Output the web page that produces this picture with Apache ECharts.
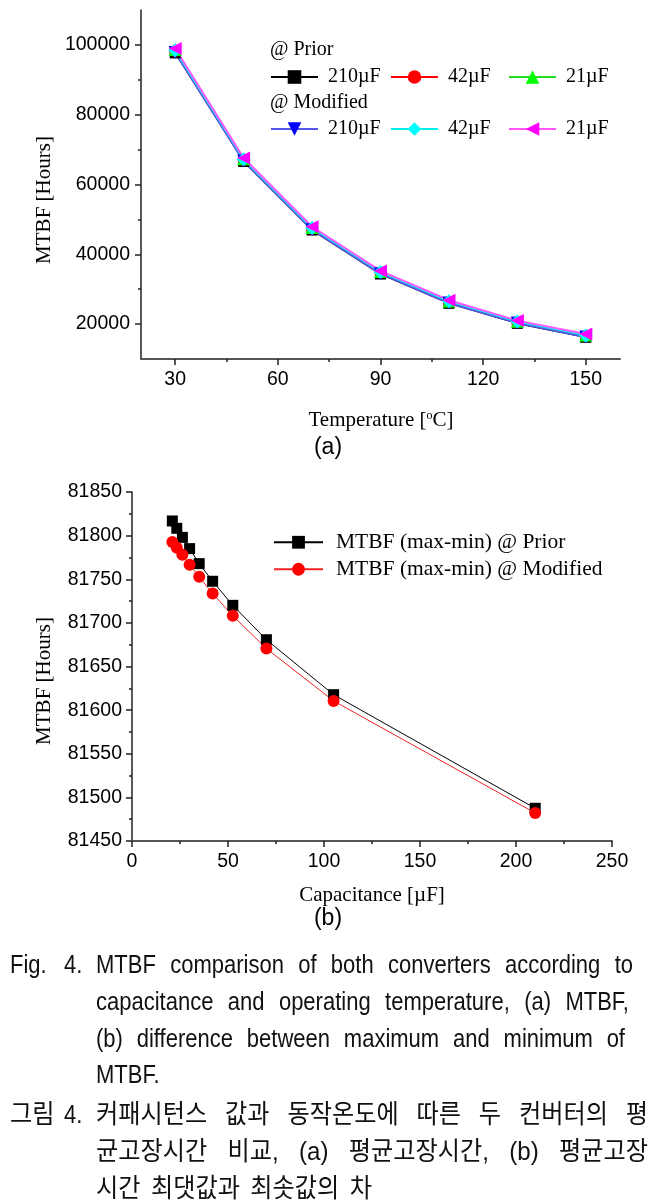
<!DOCTYPE html>
<html>
<head>
<meta charset="utf-8">
<script src="https://cdn.jsdelivr.net/npm/echarts@6/dist/echarts.min.js"></script>
<style>
html, body { margin: 0; padding: 0; background: #fff; }
#wrap { position: relative; width: 665px; height: 1204px; }
#chart { position: absolute; left: 0; top: 0; width: 665px; height: 1204px; }
.cap { position: absolute; font-family: "Liberation Sans", "Noto Sans CJK KR", sans-serif; font-size: 25px; line-height: 30px; color: #111; transform: scaleX(0.88); transform-origin: 0 50%; }
.kr { position: absolute; font-family: "Liberation Sans", "Noto Sans CJK KR", sans-serif; font-size: 26px; line-height: 30px; color: #111; word-spacing: 4px; transform: scaleX(0.93); transform-origin: 0 50%; }
.just { text-align: justify; text-align-last: justify; }
</style>
</head>
<body>
<div id="wrap"><div id="chart"></div><div id="caption"></div></div>
<script>
// (a) MTBF vs temperature
var temps = [30, 50, 70, 90, 110, 130, 150];
var prior210 = [97700, 66600, 46950, 34350, 25950, 20200, 16213];
var prior42 = [98250, 67050, 47350, 34750, 26350, 20550, 16502];
var prior21 = [98700, 67400, 47700, 35050, 26650, 20850, 16883];
var mod210 = [97800, 66700, 47050, 34450, 26050, 20300, 16319];
var mod42 = [98500, 67250, 47550, 34950, 26550, 20750, 16766];
var mod21 = [98950, 67600, 47900, 35250, 26850, 21000, 17157];
var tempTicks = [30, 60, 90, 120, 150];
var tempMinor = [45, 75, 105, 135];
var hourTicks = [20000, 40000, 60000, 80000, 100000];
var hourMinor = [30000, 50000, 70000, 90000];

// (b) max-min MTBF vs capacitance
var caps = [21, 23.33, 26.25, 30, 35, 42, 52.5, 70, 105, 210];
var diffPrior = [81816.8, 81808.4, 81798, 81785.1, 81767.9, 81747.7, 81720.1, 81680.7, 81617.7, 81487.5];
var diffMod = [81792.7, 81786.2, 81778, 81766.5, 81752.8, 81733.7, 81708.1, 81670.6, 81610.5, 81482.1];

var captionLines = [
  { text: 'Fig.', left: 10, y: 964 },
  { text: '4.', left: 64, y: 964 },
  { text: 'MTBF comparison of both converters according to', left: 96, right: 633, y: 964 },
  { text: 'capacitance and operating temperature, (a) MTBF,', left: 96, right: 629, y: 1001 },
  { text: '(b) difference between maximum and minimum of', left: 96, right: 625, y: 1038 },
  { text: 'MTBF.', left: 96, y: 1074 },
  { text: '그림', left: 10, y: 1114, kr: true },
  { text: '4.', left: 64, y: 1114 },
  { text: '커패시턴스 값과 동작온도에 따른 두 컨버터의 평', left: 96, right: 648, y: 1114, kr: true },
  { text: '균고장시간 비교, (a) 평균고장시간, (b) 평균고장', left: 96, right: 648, y: 1151, kr: true },
  { text: '시간 최댓값과 최솟값의 차', left: 96, y: 1188, kr: true }
];

var SANS = 'Liberation Sans';
var SERIF = 'Liberation Serif';

function pairs(xs, ys) {
  return xs.map(function (x, i) { return [x, ys[i]]; });
}

var labelStyle = { fontFamily: SANS, fontSize: 19.5, color: '#000', formatter: function (v) { return String(v); } };

function mainAxis(grid, min, max, ticks, extra) {
  var ax = {
    gridIndex: grid, type: 'value', min: min, max: max,
    axisLine: { show: true, onZero: false, lineStyle: { color: '#222', width: 1.5 } },
    axisTick: { show: true, customValues: ticks, length: 6, lineStyle: { color: '#222', width: 1.5 } },
    axisLabel: Object.assign({ customValues: ticks, margin: 11 }, labelStyle),
    splitLine: { show: false }
  };
  return Object.assign(ax, extra || {});
}

function minorAxis(grid, min, max, ticks, pos) {
  return {
    gridIndex: grid, type: 'value', min: min, max: max, position: pos,
    axisLine: { show: false, onZero: false },
    axisTick: { show: true, customValues: ticks, length: 3, lineStyle: { color: '#222', width: 1.5 } },
    axisLabel: { show: false },
    splitLine: { show: false }
  };
}

function lineA(name, ys, symbol, size, rotate, mark, line, lw) {
  return {
    name: name, type: 'line', xAxisIndex: 0, yAxisIndex: 0,
    data: pairs(temps, ys),
    symbol: symbol, symbolSize: size, symbolRotate: rotate,
    itemStyle: { color: mark },
    lineStyle: { color: line, width: lw },
    emphasis: { disabled: true }
  };
}

function legendItem(name, left, yc, size, iw, ih, pad) {
  return {
    left: left, top: yc - Math.max(size, ih) / 2, padding: 0, itemWidth: iw, itemHeight: ih,
    selectedMode: false, data: [name],
    formatter: function (n) { return n.indexOf('MTBF') === 0 ? n : n.split(' ')[1]; },
    textStyle: { fontFamily: SERIF, fontSize: size, color: '#000', padding: [0, 0, 0, pad] }
  };
}

function txt(x, y, text, size, family, extra) {
  return Object.assign({
    type: 'text', x: x, y: y,
    style: { text: text, fontFamily: family, fontSize: size, fill: '#000', align: 'center', verticalAlign: 'middle' }
  }, extra || {});
}

function leftTxt(x, y, text, size) {
  return {
    type: 'text', x: x, y: y,
    style: { text: text, fontFamily: SERIF, fontSize: size, fill: '#000', align: 'left', verticalAlign: 'middle' }
  };
}

var chart = echarts.init(document.getElementById('chart'));
var option = {
  animation: false,
  backgroundColor: '#fff',
  grid: [
    { left: 141, top: 10, width: 479, height: 349, outerBoundsMode: 'none' },
    { left: 132, top: 492, width: 480, height: 349, outerBoundsMode: 'none' }
  ],
  xAxis: [
    mainAxis(0, 20, 160, tempTicks, { axisLine: { show: true, onZero: false, lineStyle: { color: '#555', width: 2 } } }),
    minorAxis(0, 20, 160, tempMinor, 'bottom'),
    {
      gridIndex: 1, type: 'value', min: 0, max: 250, interval: 50, position: 'bottom',
      axisLine: { show: true, onZero: false, lineStyle: { color: '#555', width: 2 } },
      axisTick: { show: true, length: 6, lineStyle: { color: '#222', width: 1.5 } },
      minorTick: { show: true, splitNumber: 2, length: 3, lineStyle: { color: '#222', width: 1.5 } },
      axisLabel: Object.assign({ margin: 11 }, labelStyle),
      splitLine: { show: false }, minorSplitLine: { show: false }
    }
  ],
  yAxis: [
    mainAxis(0, 10000, 110000, hourTicks, { position: 'left' }),
    minorAxis(0, 10000, 110000, hourMinor, 'left'),
    {
      gridIndex: 1, type: 'value', min: 81450, max: 81850, interval: 50, position: 'left',
      axisLine: { show: true, onZero: false, lineStyle: { color: '#222', width: 1.5 } },
      axisTick: { show: true, length: 6, lineStyle: { color: '#222', width: 1.5 } },
      minorTick: { show: true, splitNumber: 2, length: 3, lineStyle: { color: '#222', width: 1.5 } },
      axisLabel: Object.assign({ margin: 10 }, labelStyle),
      splitLine: { show: false }, minorSplitLine: { show: false }
    }
  ],
  legend: [
    legendItem('Prior 210µF', 270, 77, 20, 47, 17, 5),
    legendItem('Prior 42µF', 390, 77, 20, 47, 17, 5),
    legendItem('Prior 21µF', 508, 77, 20, 47, 17, 5),
    legendItem('Modified 210µF', 270, 129, 20, 47, 17, 5),
    legendItem('Modified 42µF', 390, 129, 20, 47, 17, 5),
    legendItem('Modified 21µF', 508, 129, 20, 47, 17, 5),
    legendItem('MTBF (max-min) @ Prior', 273, 542, 21.5, 49, 16, 8),
    legendItem('MTBF (max-min) @ Modified', 273, 569, 21.5, 49, 16, 8)
  ],
  graphic: [
    leftTxt(270, 50, '@ Prior', 20),
    leftTxt(270, 103, '@ Modified', 20),
    txt(44, 200, 'MTBF [Hours]', 21, SERIF, { rotation: Math.PI / 2 }),
    txt(44, 681, 'MTBF [Hours]', 21, SERIF, { rotation: Math.PI / 2 }),
    {
      type: 'text', x: 381, y: 420,
      style: {
        text: '{n|Temperature [}{s|o}{n|C]}', align: 'center', verticalAlign: 'middle',
        rich: {
          n: { fontFamily: SERIF, fontSize: 21, fill: '#000' },
          s: { fontFamily: SERIF, fontSize: 12, fill: '#000', verticalAlign: 'top' }
        }
      }
    },
    txt(372, 895, 'Capacitance [µF]', 21, SERIF),
    txt(328, 448, '(a)', 23, SANS),
    txt(328, 919, '(b)', 23, SANS)
  ],
  series: [
    lineA('Prior 210µF', prior210, 'rect', 11, 0, '#000', '#000', 1.5),
    lineA('Prior 42µF', prior42, 'circle', 12, 0, '#ff0000', '#ff0000', 1.5),
    lineA('Prior 21µF', prior21, 'triangle', 13, 0, '#00ff00', '#22dd22', 1.5),
    lineA('Modified 210µF', mod210, 'triangle', 13, 180, '#0000ff', '#5555ee', 2),
    lineA('Modified 42µF', mod42, 'diamond', 14, 0, '#00ffff', '#00eeee', 2),
    lineA('Modified 21µF', mod21, 'triangle', 13, 90, '#ff00ff', '#ff55ff', 2),
    {
      name: 'MTBF (max-min) @ Prior', type: 'line', xAxisIndex: 2, yAxisIndex: 2,
      data: pairs(caps, diffPrior), symbol: 'rect', symbolSize: 11,
      itemStyle: { color: '#000' }, lineStyle: { color: '#000', width: 1 }, emphasis: { disabled: true }
    },
    {
      name: 'MTBF (max-min) @ Modified', type: 'line', xAxisIndex: 2, yAxisIndex: 2,
      data: pairs(caps, diffMod), symbol: 'circle', symbolSize: 12,
      itemStyle: { color: '#ff0000' }, lineStyle: { color: '#ee2222', width: 1 }, emphasis: { disabled: true }
    }
  ]
};
chart.setOption(option);

var capBox = document.getElementById('caption');
captionLines.forEach(function (c) {
  var d = document.createElement('div');
  var scale = c.kr ? 0.93 : 0.88;
  d.className = (c.kr ? 'kr' : 'cap') + (c.right ? ' just' : '');
  d.textContent = c.text;
  d.style.left = c.left + 'px';
  d.style.top = (c.y - 15) + 'px';
  if (c.right) d.style.width = ((c.right - c.left) / scale) + 'px';
  capBox.appendChild(d);
});
</script>
</body>
</html>
